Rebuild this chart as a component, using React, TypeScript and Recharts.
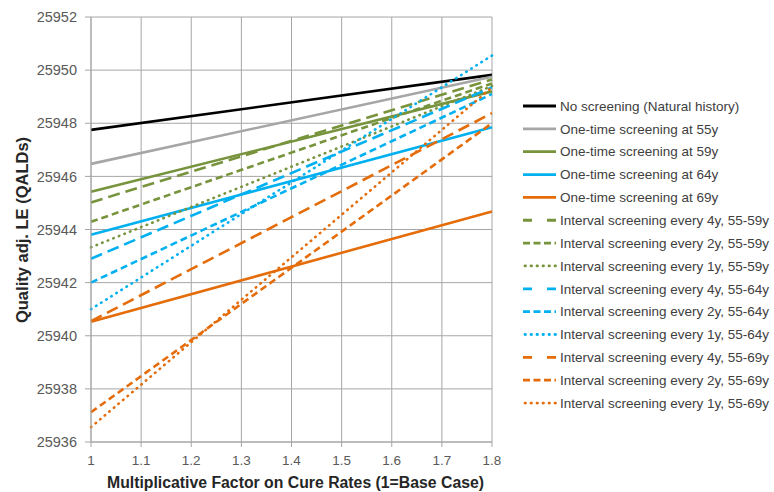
import React from "react";
import { LineChart, Line, XAxis, YAxis, CartesianGrid, Legend } from "recharts";

const xValues = [1, 1.8];
const xTicks = [1, 1.1, 1.2, 1.3, 1.4, 1.5, 1.6, 1.7, 1.8];
const yTicks = [25936, 25938, 25940, 25942, 25944, 25946, 25948, 25950, 25952];

const seriesNames = [
  "No screening (Natural history)",
  "One-time screening at 55y",
  "One-time screening at 59y",
  "One-time screening at 64y",
  "One-time screening at 69y",
  "Interval screening every 4y, 55-59y",
  "Interval screening every 2y, 55-59y",
  "Interval screening every 1y, 55-59y",
  "Interval screening every 4y, 55-64y",
  "Interval screening every 2y, 55-64y",
  "Interval screening every 1y, 55-64y",
  "Interval screening every 4y, 55-69y",
  "Interval screening every 2y, 55-69y",
  "Interval screening every 1y, 55-69y",
];

// values at x = 1 and x = 1.8
const noScreening = [25947.75, 25949.82];
const once55 = [25946.47, 25949.75];
const once59 = [25945.42, 25949.2];
const once64 = [25943.8, 25947.85];
const once69 = [25940.53, 25944.68];
const int4y59 = [25945.02, 25949.65];
const int2y59 = [25944.29, 25949.5];
const int1y59 = [25943.33, 25949.4];
const int4y64 = [25942.9, 25949.35];
const int2y64 = [25942.0, 25949.1];
const int1y64 = [25941.0, 25950.55];
const int4y69 = [25940.55, 25948.38];
const int2y69 = [25937.12, 25948.0];
const int1y69 = [25936.56, 25949.35];

const seriesValues = [
  noScreening, once55, once59, once64, once69,
  int4y59, int2y59, int1y59, int4y64, int2y64, int1y64, int4y69, int2y69, int1y69,
];

const BLACK = "#000000";
const GRAY = "#a6a6a6";
const GREEN = "#77933c";
const BLUE = "#00b0f0";
const ORANGE = "#e46c0a";

const seriesColors = [BLACK, GRAY, GREEN, BLUE, ORANGE, GREEN, GREEN, GREEN, BLUE, BLUE, BLUE, ORANGE, ORANGE, ORANGE];
const LONG = "12 6";
const DASH = "7 4";
const DOT = "0.5 5.5";
const seriesDash = [undefined, undefined, undefined, undefined, undefined, LONG, DASH, DOT, LONG, DASH, DOT, LONG, DASH, DOT];

const data = xValues.map((x, i) => {
  const row: any = { x };
  seriesValues.forEach((vals, s) => {
    row["s" + s] = vals[i];
  });
  return row;
});

const FONT = "'Liberation Sans', Arial, sans-serif";

const LegendContent = () => (
  <svg width={251} height={320} style={{ display: "block", overflow: "visible" }}>
    {seriesNames.map((name, i) => {
      const y = 11 + i * 22.85;
      const dash = seriesDash[i];
      return (
        <g key={name}>
          <line
            x1={dash === DOT ? 2 : 0}
            x2={dash === DOT ? 34 : 33}
            y1={y}
            y2={y}
            stroke={seriesColors[i]}
            strokeWidth={2.8}
            strokeDasharray={dash === LONG ? "9 15" : dash === DASH ? "7 3.5" : dash}
            strokeLinecap={dash === DOT ? "round" : "butt"}
          />
          <text x={37} y={y} dy="0.35em" fontSize={13.5} fill="#404040" fontFamily={FONT}>
            {name}
          </text>
        </g>
      );
    })}
  </svg>
);

export default function App() {
  return (
    <div style={{ position: "absolute", left: 0, top: 0, width: 774, height: 492, background: "#fff" }}>
      <LineChart
        width={774}
        height={492}
        data={data}
        margin={{ top: 17, right: 31, bottom: 0, left: 0 }}
      >
        <CartesianGrid stroke="#a6a6a6" strokeWidth={1} />
        <XAxis
          dataKey="x"
          type="number"
          domain={[1, 1.8]}
          ticks={xTicks}
          interval={0}
          height={50}
          tickSize={5}
          tickMargin={8}
          stroke="#a6a6a6"
          tick={{ fill: "#595959", fontSize: 13.5, fontFamily: FONT }}
          tickFormatter={(v: number) => String(v)}
          label={{
            content: (props: any) => {
              const vb = props.viewBox || {};
              return (
                <text
                  x={vb.x + vb.width / 2 + 4}
                  y={487.5}
                  textAnchor="middle"
                  fontSize={15.8}
                  fontWeight="bold"
                  fill="#262626"
                  fontFamily={FONT}
                >
                  Multiplicative Factor on Cure Rates (1=Base Case)
                </text>
              );
            },
          }}
        />
        <YAxis
          type="number"
          domain={[25936, 25952]}
          ticks={yTicks}
          interval={0}
          width={91}
          tickSize={6}
          tickMargin={8}
          stroke="#a6a6a6"
          tick={{ fill: "#595959", fontSize: 14.5, fontFamily: FONT }}
          label={{
            content: (props: any) => {
              const vb = props.viewBox || {};
              const cy = vb.y + vb.height / 2 + 0.5;
              return (
                <text
                  x={21.5}
                  y={cy}
                  transform={`rotate(-90, 21.5, ${cy})`}
                  textAnchor="middle"
                  dominantBaseline="central"
                  fontSize={16.5}
                  fontWeight="bold"
                  fill="#262626"
                  fontFamily={FONT}
                >
                  Quality adj. LE (QALDs)
                </text>
              );
            },
          }}
        />
        <Legend
          layout="horizontal"
          verticalAlign="middle"
          align="right"
          wrapperStyle={{ left: 523, top: 95, width: 251, right: "auto", bottom: "auto" }}
          content={<LegendContent />}
        />
        {seriesNames.map((name, i) => (
          <Line
            key={name}
            name={name}
            dataKey={"s" + i}
            type="linear"
            stroke={seriesColors[i]}
            strokeWidth={2.6}
            strokeDasharray={seriesDash[i]}
            strokeLinecap={seriesDash[i] === DOT ? "round" : "butt"}
            dot={false}
            activeDot={false}
            isAnimationActive={false}
          />
        ))}
      </LineChart>
    </div>
  );
}
